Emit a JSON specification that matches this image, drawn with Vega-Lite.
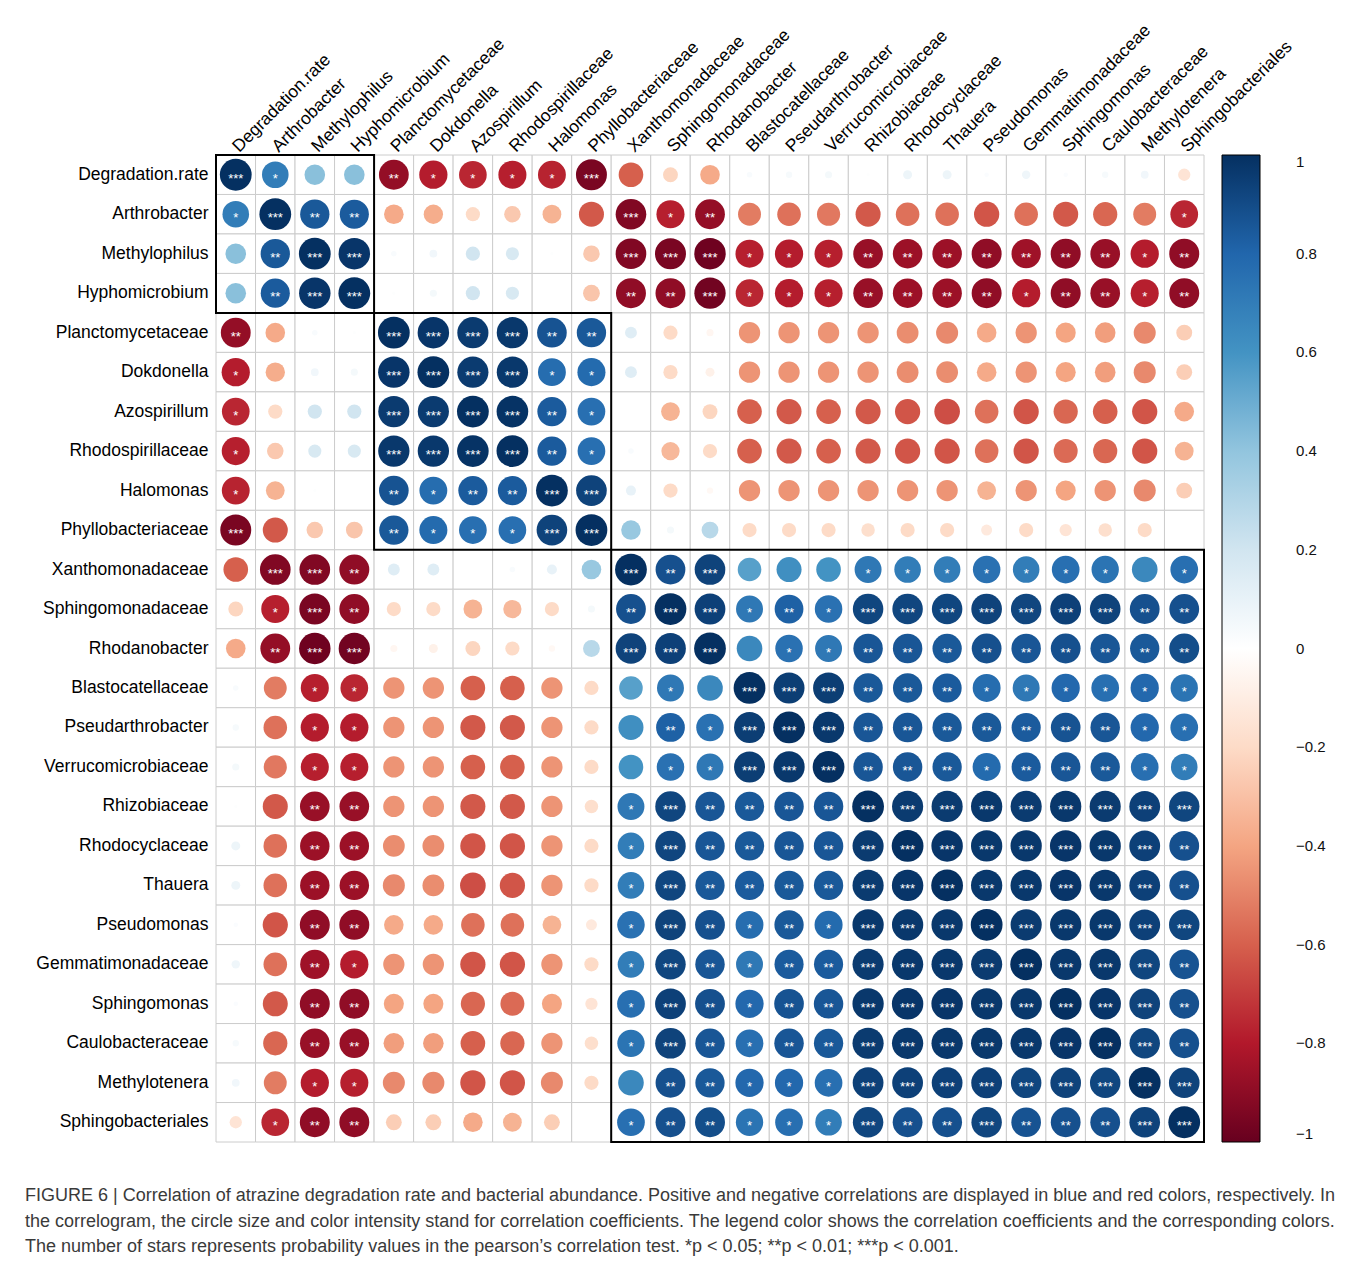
{
"$schema": "https://vega.github.io/schema/vega-lite/v6.json",
"autosize": {"type": "none"},
"width": 988,
"height": 987,
"padding": {"left": 216, "top": 155, "right": 154, "bottom": 121},
"background": "white",
"config": {"view": {"stroke": null}, "font": "Liberation Sans"},
"title": {
  "text": [
    "FIGURE 6 | Correlation of atrazine degradation rate and bacterial abundance. Positive and negative correlations are displayed in blue and red colors, respectively. In",
    "the correlogram, the circle size and color intensity stand for correlation coefficients. The legend color shows the correlation coefficients and the corresponding colors.",
    "The number of stars represents probability values in the pearson’s correlation test. *p < 0.05; **p < 0.01; ***p < 0.001."
  ],
  "orient": "bottom", "anchor": "start", "frame": "group", "dx": -191, "offset": 44,
  "font": "Liberation Sans", "fontSize": 18, "fontWeight": "normal", "color": "#3a3a3a", "baseline": "top", "lineHeight": 25.5
},
"datasets": {
  "names": [
    {"k":1,"name":"Degradation.rate"},{"k":2,"name":"Arthrobacter"},{"k":3,"name":"Methylophilus"},{"k":4,"name":"Hyphomicrobium"},{"k":5,"name":"Planctomycetaceae"},
    {"k":6,"name":"Dokdonella"},{"k":7,"name":"Azospirillum"},{"k":8,"name":"Rhodospirillaceae"},{"k":9,"name":"Halomonas"},{"k":10,"name":"Phyllobacteriaceae"},
    {"k":11,"name":"Xanthomonadaceae"},{"k":12,"name":"Sphingomonadaceae"},{"k":13,"name":"Rhodanobacter"},{"k":14,"name":"Blastocatellaceae"},{"k":15,"name":"Pseudarthrobacter"},
    {"k":16,"name":"Verrucomicrobiaceae"},{"k":17,"name":"Rhizobiaceae"},{"k":18,"name":"Rhodocyclaceae"},{"k":19,"name":"Thauera"},{"k":20,"name":"Pseudomonas"},
    {"k":21,"name":"Gemmatimonadaceae"},{"k":22,"name":"Sphingomonas"},{"k":23,"name":"Caulobacteraceae"},{"k":24,"name":"Methylotenera"},{"k":25,"name":"Sphingobacteriales"}
  ],
  "clusters": [
    {"a":"Degradation.rate","b":"Hyphomicrobium"},
    {"a":"Planctomycetaceae","b":"Phyllobacteriaceae"},
    {"a":"Xanthomonadaceae","b":"Sphingobacteriales"}
  ],
  "cells": [
{"x":1,"y":1,"r":1,"s":"***"},{"x":2,"y":1,"r":0.7,"s":"*"},{"x":3,"y":1,"r":0.42},{"x":4,"y":1,"r":0.42},{"x":5,"y":1,"r":-0.88,"s":"**"},{"x":6,"y":1,"r":-0.79,"s":"*"},{"x":7,"y":1,"r":-0.76,"s":"*"},{"x":8,"y":1,"r":-0.78,"s":"*"},{"x":9,"y":1,"r":-0.77,"s":"*"},{"x":10,"y":1,"r":-0.95,"s":"***"},{"x":11,"y":1,"r":-0.6},{"x":12,"y":1,"r":-0.22},{"x":13,"y":1,"r":-0.38},{"x":14,"y":1,"r":0.03},{"x":15,"y":1,"r":0.04},{"x":16,"y":1,"r":0.05},{"x":17,"y":1,"r":0.01},{"x":18,"y":1,"r":0.08},{"x":19,"y":1,"r":0.08},{"x":20,"y":1,"r":0.02},{"x":21,"y":1,"r":0.07},{"x":22,"y":1,"r":0.02},{"x":23,"y":1,"r":0.04},{"x":24,"y":1,"r":0.06},{"x":25,"y":1,"r":-0.15},
{"x":1,"y":2,"r":0.7,"s":"*"},{"x":2,"y":2,"r":1,"s":"***"},{"x":3,"y":2,"r":0.85,"s":"**"},{"x":4,"y":2,"r":0.84,"s":"**"},{"x":5,"y":2,"r":-0.38},{"x":6,"y":2,"r":-0.37},{"x":7,"y":2,"r":-0.2},{"x":8,"y":2,"r":-0.27},{"x":9,"y":2,"r":-0.35},{"x":10,"y":2,"r":-0.62},{"x":11,"y":2,"r":-0.93,"s":"***"},{"x":12,"y":2,"r":-0.78,"s":"*"},{"x":13,"y":2,"r":-0.88,"s":"**"},{"x":14,"y":2,"r":-0.52},{"x":15,"y":2,"r":-0.55},{"x":16,"y":2,"r":-0.53},{"x":17,"y":2,"r":-0.62},{"x":18,"y":2,"r":-0.55},{"x":19,"y":2,"r":-0.55},{"x":20,"y":2,"r":-0.63},{"x":21,"y":2,"r":-0.55},{"x":22,"y":2,"r":-0.62},{"x":23,"y":2,"r":-0.58},{"x":24,"y":2,"r":-0.52},{"x":25,"y":2,"r":-0.76,"s":"*"},
{"x":1,"y":3,"r":0.42},{"x":2,"y":3,"r":0.85,"s":"**"},{"x":3,"y":3,"r":1,"s":"***"},{"x":4,"y":3,"r":0.98,"s":"***"},{"x":5,"y":3,"r":0.03},{"x":6,"y":3,"r":0.06},{"x":7,"y":3,"r":0.2},{"x":8,"y":3,"r":0.17},{"x":9,"y":3,"r":0.01},{"x":10,"y":3,"r":-0.27},{"x":11,"y":3,"r":-0.93,"s":"***"},{"x":12,"y":3,"r":-0.95,"s":"***"},{"x":13,"y":3,"r":-0.98,"s":"***"},{"x":14,"y":3,"r":-0.78,"s":"*"},{"x":15,"y":3,"r":-0.79,"s":"*"},{"x":16,"y":3,"r":-0.78,"s":"*"},{"x":17,"y":3,"r":-0.87,"s":"**"},{"x":18,"y":3,"r":-0.86,"s":"**"},{"x":19,"y":3,"r":-0.86,"s":"**"},{"x":20,"y":3,"r":-0.89,"s":"**"},{"x":21,"y":3,"r":-0.85,"s":"**"},{"x":22,"y":3,"r":-0.89,"s":"**"},{"x":23,"y":3,"r":-0.87,"s":"**"},{"x":24,"y":3,"r":-0.79,"s":"*"},{"x":25,"y":3,"r":-0.89,"s":"**"},
{"x":1,"y":4,"r":0.42},{"x":2,"y":4,"r":0.84,"s":"**"},{"x":3,"y":4,"r":0.98,"s":"***"},{"x":4,"y":4,"r":1,"s":"***"},{"x":5,"y":4,"r":0.01},{"x":6,"y":4,"r":0.05},{"x":7,"y":4,"r":0.2},{"x":8,"y":4,"r":0.17},{"x":9,"y":4,"r":0},{"x":10,"y":4,"r":-0.28},{"x":11,"y":4,"r":-0.89,"s":"**"},{"x":12,"y":4,"r":-0.89,"s":"**"},{"x":13,"y":4,"r":-0.97,"s":"***"},{"x":14,"y":4,"r":-0.76,"s":"*"},{"x":15,"y":4,"r":-0.79,"s":"*"},{"x":16,"y":4,"r":-0.78,"s":"*"},{"x":17,"y":4,"r":-0.87,"s":"**"},{"x":18,"y":4,"r":-0.86,"s":"**"},{"x":19,"y":4,"r":-0.86,"s":"**"},{"x":20,"y":4,"r":-0.89,"s":"**"},{"x":21,"y":4,"r":-0.79,"s":"*"},{"x":22,"y":4,"r":-0.89,"s":"**"},{"x":23,"y":4,"r":-0.87,"s":"**"},{"x":24,"y":4,"r":-0.78,"s":"*"},{"x":25,"y":4,"r":-0.89,"s":"**"},
{"x":1,"y":5,"r":-0.88,"s":"**"},{"x":2,"y":5,"r":-0.38},{"x":3,"y":5,"r":0.03},{"x":4,"y":5,"r":0.01},{"x":5,"y":5,"r":1,"s":"***"},{"x":6,"y":5,"r":0.98,"s":"***"},{"x":7,"y":5,"r":0.96,"s":"***"},{"x":8,"y":5,"r":0.97,"s":"***"},{"x":9,"y":5,"r":0.87,"s":"**"},{"x":10,"y":5,"r":0.85,"s":"**"},{"x":11,"y":5,"r":0.14},{"x":12,"y":5,"r":-0.2},{"x":13,"y":5,"r":-0.05},{"x":14,"y":5,"r":-0.45},{"x":15,"y":5,"r":-0.45},{"x":16,"y":5,"r":-0.45},{"x":17,"y":5,"r":-0.45},{"x":18,"y":5,"r":-0.47},{"x":19,"y":5,"r":-0.48},{"x":20,"y":5,"r":-0.38},{"x":21,"y":5,"r":-0.45},{"x":22,"y":5,"r":-0.4},{"x":23,"y":5,"r":-0.42},{"x":24,"y":5,"r":-0.48},{"x":25,"y":5,"r":-0.25},
{"x":1,"y":6,"r":-0.79,"s":"*"},{"x":2,"y":6,"r":-0.37},{"x":3,"y":6,"r":0.06},{"x":4,"y":6,"r":0.05},{"x":5,"y":6,"r":0.98,"s":"***"},{"x":6,"y":6,"r":1,"s":"***"},{"x":7,"y":6,"r":0.96,"s":"***"},{"x":8,"y":6,"r":0.97,"s":"***"},{"x":9,"y":6,"r":0.77,"s":"*"},{"x":10,"y":6,"r":0.78,"s":"*"},{"x":11,"y":6,"r":0.14},{"x":12,"y":6,"r":-0.2},{"x":13,"y":6,"r":-0.08},{"x":14,"y":6,"r":-0.45},{"x":15,"y":6,"r":-0.45},{"x":16,"y":6,"r":-0.45},{"x":17,"y":6,"r":-0.45},{"x":18,"y":6,"r":-0.47},{"x":19,"y":6,"r":-0.47},{"x":20,"y":6,"r":-0.38},{"x":21,"y":6,"r":-0.45},{"x":22,"y":6,"r":-0.4},{"x":23,"y":6,"r":-0.42},{"x":24,"y":6,"r":-0.48},{"x":25,"y":6,"r":-0.25},
{"x":1,"y":7,"r":-0.76,"s":"*"},{"x":2,"y":7,"r":-0.2},{"x":3,"y":7,"r":0.2},{"x":4,"y":7,"r":0.2},{"x":5,"y":7,"r":0.96,"s":"***"},{"x":6,"y":7,"r":0.96,"s":"***"},{"x":7,"y":7,"r":1,"s":"***"},{"x":8,"y":7,"r":0.99,"s":"***"},{"x":9,"y":7,"r":0.84,"s":"**"},{"x":10,"y":7,"r":0.76,"s":"*"},{"x":11,"y":7,"r":0},{"x":12,"y":7,"r":-0.35},{"x":13,"y":7,"r":-0.22},{"x":14,"y":7,"r":-0.6},{"x":15,"y":7,"r":-0.62},{"x":16,"y":7,"r":-0.6},{"x":17,"y":7,"r":-0.62},{"x":18,"y":7,"r":-0.63},{"x":19,"y":7,"r":-0.65},{"x":20,"y":7,"r":-0.55},{"x":21,"y":7,"r":-0.63},{"x":22,"y":7,"r":-0.58},{"x":23,"y":7,"r":-0.6},{"x":24,"y":7,"r":-0.63},{"x":25,"y":7,"r":-0.38},
{"x":1,"y":8,"r":-0.78,"s":"*"},{"x":2,"y":8,"r":-0.27},{"x":3,"y":8,"r":0.17},{"x":4,"y":8,"r":0.17},{"x":5,"y":8,"r":0.97,"s":"***"},{"x":6,"y":8,"r":0.97,"s":"***"},{"x":7,"y":8,"r":0.99,"s":"***"},{"x":8,"y":8,"r":1,"s":"***"},{"x":9,"y":8,"r":0.84,"s":"**"},{"x":10,"y":8,"r":0.76,"s":"*"},{"x":11,"y":8,"r":0.03},{"x":12,"y":8,"r":-0.33},{"x":13,"y":8,"r":-0.2},{"x":14,"y":8,"r":-0.6},{"x":15,"y":8,"r":-0.62},{"x":16,"y":8,"r":-0.6},{"x":17,"y":8,"r":-0.62},{"x":18,"y":8,"r":-0.63},{"x":19,"y":8,"r":-0.63},{"x":20,"y":8,"r":-0.55},{"x":21,"y":8,"r":-0.63},{"x":22,"y":8,"r":-0.57},{"x":23,"y":8,"r":-0.58},{"x":24,"y":8,"r":-0.63},{"x":25,"y":8,"r":-0.35},
{"x":1,"y":9,"r":-0.77,"s":"*"},{"x":2,"y":9,"r":-0.35},{"x":3,"y":9,"r":0.01},{"x":4,"y":9,"r":0},{"x":5,"y":9,"r":0.87,"s":"**"},{"x":6,"y":9,"r":0.77,"s":"*"},{"x":7,"y":9,"r":0.84,"s":"**"},{"x":8,"y":9,"r":0.84,"s":"**"},{"x":9,"y":9,"r":1,"s":"***"},{"x":10,"y":9,"r":0.93,"s":"***"},{"x":11,"y":9,"r":0.1},{"x":12,"y":9,"r":-0.2},{"x":13,"y":9,"r":-0.04},{"x":14,"y":9,"r":-0.45},{"x":15,"y":9,"r":-0.45},{"x":16,"y":9,"r":-0.45},{"x":17,"y":9,"r":-0.45},{"x":18,"y":9,"r":-0.45},{"x":19,"y":9,"r":-0.45},{"x":20,"y":9,"r":-0.35},{"x":21,"y":9,"r":-0.45},{"x":22,"y":9,"r":-0.4},{"x":23,"y":9,"r":-0.45},{"x":24,"y":9,"r":-0.48},{"x":25,"y":9,"r":-0.25},
{"x":1,"y":10,"r":-0.95,"s":"***"},{"x":2,"y":10,"r":-0.62},{"x":3,"y":10,"r":-0.27},{"x":4,"y":10,"r":-0.28},{"x":5,"y":10,"r":0.85,"s":"**"},{"x":6,"y":10,"r":0.78,"s":"*"},{"x":7,"y":10,"r":0.76,"s":"*"},{"x":8,"y":10,"r":0.76,"s":"*"},{"x":9,"y":10,"r":0.93,"s":"***"},{"x":10,"y":10,"r":1,"s":"***"},{"x":11,"y":10,"r":0.38},{"x":12,"y":10,"r":0.05},{"x":13,"y":10,"r":0.28},{"x":14,"y":10,"r":-0.2},{"x":15,"y":10,"r":-0.2},{"x":16,"y":10,"r":-0.2},{"x":17,"y":10,"r":-0.18},{"x":18,"y":10,"r":-0.2},{"x":19,"y":10,"r":-0.2},{"x":20,"y":10,"r":-0.12},{"x":21,"y":10,"r":-0.2},{"x":22,"y":10,"r":-0.15},{"x":23,"y":10,"r":-0.18},{"x":24,"y":10,"r":-0.2},{"x":25,"y":10,"r":0},
{"x":1,"y":11,"r":-0.6},{"x":2,"y":11,"r":-0.93,"s":"***"},{"x":3,"y":11,"r":-0.93,"s":"***"},{"x":4,"y":11,"r":-0.89,"s":"**"},{"x":5,"y":11,"r":0.14},{"x":6,"y":11,"r":0.14},{"x":7,"y":11,"r":0},{"x":8,"y":11,"r":0.03},{"x":9,"y":11,"r":0.1},{"x":10,"y":11,"r":0.38},{"x":11,"y":11,"r":1,"s":"***"},{"x":12,"y":11,"r":0.88,"s":"**"},{"x":13,"y":11,"r":0.93,"s":"***"},{"x":14,"y":11,"r":0.55},{"x":15,"y":11,"r":0.62},{"x":16,"y":11,"r":0.6},{"x":17,"y":11,"r":0.72,"s":"*"},{"x":18,"y":11,"r":0.7,"s":"*"},{"x":19,"y":11,"r":0.7,"s":"*"},{"x":20,"y":11,"r":0.75,"s":"*"},{"x":21,"y":11,"r":0.7,"s":"*"},{"x":22,"y":11,"r":0.76,"s":"*"},{"x":23,"y":11,"r":0.74,"s":"*"},{"x":24,"y":11,"r":0.65},{"x":25,"y":11,"r":0.76,"s":"*"},
{"x":1,"y":12,"r":-0.22},{"x":2,"y":12,"r":-0.78,"s":"*"},{"x":3,"y":12,"r":-0.95,"s":"***"},{"x":4,"y":12,"r":-0.89,"s":"**"},{"x":5,"y":12,"r":-0.2},{"x":6,"y":12,"r":-0.2},{"x":7,"y":12,"r":-0.35},{"x":8,"y":12,"r":-0.33},{"x":9,"y":12,"r":-0.2},{"x":10,"y":12,"r":0.05},{"x":11,"y":12,"r":0.88,"s":"**"},{"x":12,"y":12,"r":1,"s":"***"},{"x":13,"y":12,"r":0.94,"s":"***"},{"x":14,"y":12,"r":0.72,"s":"*"},{"x":15,"y":12,"r":0.82,"s":"**"},{"x":16,"y":12,"r":0.75,"s":"*"},{"x":17,"y":12,"r":0.92,"s":"***"},{"x":18,"y":12,"r":0.92,"s":"***"},{"x":19,"y":12,"r":0.92,"s":"***"},{"x":20,"y":12,"r":0.93,"s":"***"},{"x":21,"y":12,"r":0.92,"s":"***"},{"x":22,"y":12,"r":0.94,"s":"***"},{"x":23,"y":12,"r":0.93,"s":"***"},{"x":24,"y":12,"r":0.88,"s":"**"},{"x":25,"y":12,"r":0.88,"s":"**"},
{"x":1,"y":13,"r":-0.38},{"x":2,"y":13,"r":-0.88,"s":"**"},{"x":3,"y":13,"r":-0.98,"s":"***"},{"x":4,"y":13,"r":-0.97,"s":"***"},{"x":5,"y":13,"r":-0.05},{"x":6,"y":13,"r":-0.08},{"x":7,"y":13,"r":-0.22},{"x":8,"y":13,"r":-0.2},{"x":9,"y":13,"r":-0.04},{"x":10,"y":13,"r":0.28},{"x":11,"y":13,"r":0.93,"s":"***"},{"x":12,"y":13,"r":0.94,"s":"***"},{"x":13,"y":13,"r":1,"s":"***"},{"x":14,"y":13,"r":0.65},{"x":15,"y":13,"r":0.75,"s":"*"},{"x":16,"y":13,"r":0.72,"s":"*"},{"x":17,"y":13,"r":0.86,"s":"**"},{"x":18,"y":13,"r":0.86,"s":"**"},{"x":19,"y":13,"r":0.85,"s":"**"},{"x":20,"y":13,"r":0.88,"s":"**"},{"x":21,"y":13,"r":0.86,"s":"**"},{"x":22,"y":13,"r":0.88,"s":"**"},{"x":23,"y":13,"r":0.86,"s":"**"},{"x":24,"y":13,"r":0.85,"s":"**"},{"x":25,"y":13,"r":0.89,"s":"**"},
{"x":1,"y":14,"r":0.03},{"x":2,"y":14,"r":-0.52},{"x":3,"y":14,"r":-0.78,"s":"*"},{"x":4,"y":14,"r":-0.76,"s":"*"},{"x":5,"y":14,"r":-0.45},{"x":6,"y":14,"r":-0.45},{"x":7,"y":14,"r":-0.6},{"x":8,"y":14,"r":-0.6},{"x":9,"y":14,"r":-0.45},{"x":10,"y":14,"r":-0.2},{"x":11,"y":14,"r":0.55},{"x":12,"y":14,"r":0.72,"s":"*"},{"x":13,"y":14,"r":0.65},{"x":14,"y":14,"r":1,"s":"***"},{"x":15,"y":14,"r":0.95,"s":"***"},{"x":16,"y":14,"r":0.95,"s":"***"},{"x":17,"y":14,"r":0.85,"s":"**"},{"x":18,"y":14,"r":0.85,"s":"**"},{"x":19,"y":14,"r":0.84,"s":"**"},{"x":20,"y":14,"r":0.77,"s":"*"},{"x":21,"y":14,"r":0.72,"s":"*"},{"x":22,"y":14,"r":0.79,"s":"*"},{"x":23,"y":14,"r":0.76,"s":"*"},{"x":24,"y":14,"r":0.79,"s":"*"},{"x":25,"y":14,"r":0.74,"s":"*"},
{"x":1,"y":15,"r":0.04},{"x":2,"y":15,"r":-0.55},{"x":3,"y":15,"r":-0.79,"s":"*"},{"x":4,"y":15,"r":-0.79,"s":"*"},{"x":5,"y":15,"r":-0.45},{"x":6,"y":15,"r":-0.45},{"x":7,"y":15,"r":-0.62},{"x":8,"y":15,"r":-0.62},{"x":9,"y":15,"r":-0.45},{"x":10,"y":15,"r":-0.2},{"x":11,"y":15,"r":0.62},{"x":12,"y":15,"r":0.82,"s":"**"},{"x":13,"y":15,"r":0.75,"s":"*"},{"x":14,"y":15,"r":0.95,"s":"***"},{"x":15,"y":15,"r":1,"s":"***"},{"x":16,"y":15,"r":0.97,"s":"***"},{"x":17,"y":15,"r":0.86,"s":"**"},{"x":18,"y":15,"r":0.86,"s":"**"},{"x":19,"y":15,"r":0.85,"s":"**"},{"x":20,"y":15,"r":0.85,"s":"**"},{"x":21,"y":15,"r":0.84,"s":"**"},{"x":22,"y":15,"r":0.87,"s":"**"},{"x":23,"y":15,"r":0.86,"s":"**"},{"x":24,"y":15,"r":0.79,"s":"*"},{"x":25,"y":15,"r":0.76,"s":"*"},
{"x":1,"y":16,"r":0.05},{"x":2,"y":16,"r":-0.53},{"x":3,"y":16,"r":-0.78,"s":"*"},{"x":4,"y":16,"r":-0.78,"s":"*"},{"x":5,"y":16,"r":-0.45},{"x":6,"y":16,"r":-0.45},{"x":7,"y":16,"r":-0.6},{"x":8,"y":16,"r":-0.6},{"x":9,"y":16,"r":-0.45},{"x":10,"y":16,"r":-0.2},{"x":11,"y":16,"r":0.6},{"x":12,"y":16,"r":0.75,"s":"*"},{"x":13,"y":16,"r":0.72,"s":"*"},{"x":14,"y":16,"r":0.95,"s":"***"},{"x":15,"y":16,"r":0.97,"s":"***"},{"x":16,"y":16,"r":1,"s":"***"},{"x":17,"y":16,"r":0.86,"s":"**"},{"x":18,"y":16,"r":0.86,"s":"**"},{"x":19,"y":16,"r":0.85,"s":"**"},{"x":20,"y":16,"r":0.78,"s":"*"},{"x":21,"y":16,"r":0.84,"s":"**"},{"x":22,"y":16,"r":0.86,"s":"**"},{"x":23,"y":16,"r":0.85,"s":"**"},{"x":24,"y":16,"r":0.76,"s":"*"},{"x":25,"y":16,"r":0.7,"s":"*"},
{"x":1,"y":17,"r":0.01},{"x":2,"y":17,"r":-0.62},{"x":3,"y":17,"r":-0.87,"s":"**"},{"x":4,"y":17,"r":-0.87,"s":"**"},{"x":5,"y":17,"r":-0.45},{"x":6,"y":17,"r":-0.45},{"x":7,"y":17,"r":-0.62},{"x":8,"y":17,"r":-0.62},{"x":9,"y":17,"r":-0.45},{"x":10,"y":17,"r":-0.18},{"x":11,"y":17,"r":0.72,"s":"*"},{"x":12,"y":17,"r":0.92,"s":"***"},{"x":13,"y":17,"r":0.86,"s":"**"},{"x":14,"y":17,"r":0.85,"s":"**"},{"x":15,"y":17,"r":0.86,"s":"**"},{"x":16,"y":17,"r":0.86,"s":"**"},{"x":17,"y":17,"r":1,"s":"***"},{"x":18,"y":17,"r":0.96,"s":"***"},{"x":19,"y":17,"r":0.96,"s":"***"},{"x":20,"y":17,"r":0.97,"s":"***"},{"x":21,"y":17,"r":0.96,"s":"***"},{"x":22,"y":17,"r":0.97,"s":"***"},{"x":23,"y":17,"r":0.96,"s":"***"},{"x":24,"y":17,"r":0.94,"s":"***"},{"x":25,"y":17,"r":0.92,"s":"***"},
{"x":1,"y":18,"r":0.08},{"x":2,"y":18,"r":-0.55},{"x":3,"y":18,"r":-0.86,"s":"**"},{"x":4,"y":18,"r":-0.86,"s":"**"},{"x":5,"y":18,"r":-0.47},{"x":6,"y":18,"r":-0.47},{"x":7,"y":18,"r":-0.63},{"x":8,"y":18,"r":-0.63},{"x":9,"y":18,"r":-0.45},{"x":10,"y":18,"r":-0.2},{"x":11,"y":18,"r":0.7,"s":"*"},{"x":12,"y":18,"r":0.92,"s":"***"},{"x":13,"y":18,"r":0.86,"s":"**"},{"x":14,"y":18,"r":0.85,"s":"**"},{"x":15,"y":18,"r":0.86,"s":"**"},{"x":16,"y":18,"r":0.86,"s":"**"},{"x":17,"y":18,"r":0.96,"s":"***"},{"x":18,"y":18,"r":1,"s":"***"},{"x":19,"y":18,"r":0.98,"s":"***"},{"x":20,"y":18,"r":0.97,"s":"***"},{"x":21,"y":18,"r":0.97,"s":"***"},{"x":22,"y":18,"r":0.98,"s":"***"},{"x":23,"y":18,"r":0.97,"s":"***"},{"x":24,"y":18,"r":0.94,"s":"***"},{"x":25,"y":18,"r":0.88,"s":"**"},
{"x":1,"y":19,"r":0.08},{"x":2,"y":19,"r":-0.55},{"x":3,"y":19,"r":-0.86,"s":"**"},{"x":4,"y":19,"r":-0.86,"s":"**"},{"x":5,"y":19,"r":-0.48},{"x":6,"y":19,"r":-0.47},{"x":7,"y":19,"r":-0.65},{"x":8,"y":19,"r":-0.63},{"x":9,"y":19,"r":-0.45},{"x":10,"y":19,"r":-0.2},{"x":11,"y":19,"r":0.7,"s":"*"},{"x":12,"y":19,"r":0.92,"s":"***"},{"x":13,"y":19,"r":0.85,"s":"**"},{"x":14,"y":19,"r":0.84,"s":"**"},{"x":15,"y":19,"r":0.85,"s":"**"},{"x":16,"y":19,"r":0.85,"s":"**"},{"x":17,"y":19,"r":0.96,"s":"***"},{"x":18,"y":19,"r":0.98,"s":"***"},{"x":19,"y":19,"r":1,"s":"***"},{"x":20,"y":19,"r":0.97,"s":"***"},{"x":21,"y":19,"r":0.97,"s":"***"},{"x":22,"y":19,"r":0.98,"s":"***"},{"x":23,"y":19,"r":0.97,"s":"***"},{"x":24,"y":19,"r":0.94,"s":"***"},{"x":25,"y":19,"r":0.88,"s":"**"},
{"x":1,"y":20,"r":0.02},{"x":2,"y":20,"r":-0.63},{"x":3,"y":20,"r":-0.89,"s":"**"},{"x":4,"y":20,"r":-0.89,"s":"**"},{"x":5,"y":20,"r":-0.38},{"x":6,"y":20,"r":-0.38},{"x":7,"y":20,"r":-0.55},{"x":8,"y":20,"r":-0.55},{"x":9,"y":20,"r":-0.35},{"x":10,"y":20,"r":-0.12},{"x":11,"y":20,"r":0.75,"s":"*"},{"x":12,"y":20,"r":0.93,"s":"***"},{"x":13,"y":20,"r":0.88,"s":"**"},{"x":14,"y":20,"r":0.77,"s":"*"},{"x":15,"y":20,"r":0.85,"s":"**"},{"x":16,"y":20,"r":0.78,"s":"*"},{"x":17,"y":20,"r":0.97,"s":"***"},{"x":18,"y":20,"r":0.97,"s":"***"},{"x":19,"y":20,"r":0.97,"s":"***"},{"x":20,"y":20,"r":1,"s":"***"},{"x":21,"y":20,"r":0.96,"s":"***"},{"x":22,"y":20,"r":0.97,"s":"***"},{"x":23,"y":20,"r":0.97,"s":"***"},{"x":24,"y":20,"r":0.94,"s":"***"},{"x":25,"y":20,"r":0.92,"s":"***"},
{"x":1,"y":21,"r":0.07},{"x":2,"y":21,"r":-0.55},{"x":3,"y":21,"r":-0.85,"s":"**"},{"x":4,"y":21,"r":-0.79,"s":"*"},{"x":5,"y":21,"r":-0.45},{"x":6,"y":21,"r":-0.45},{"x":7,"y":21,"r":-0.63},{"x":8,"y":21,"r":-0.63},{"x":9,"y":21,"r":-0.45},{"x":10,"y":21,"r":-0.2},{"x":11,"y":21,"r":0.7,"s":"*"},{"x":12,"y":21,"r":0.92,"s":"***"},{"x":13,"y":21,"r":0.86,"s":"**"},{"x":14,"y":21,"r":0.72,"s":"*"},{"x":15,"y":21,"r":0.84,"s":"**"},{"x":16,"y":21,"r":0.84,"s":"**"},{"x":17,"y":21,"r":0.96,"s":"***"},{"x":18,"y":21,"r":0.97,"s":"***"},{"x":19,"y":21,"r":0.97,"s":"***"},{"x":20,"y":21,"r":0.96,"s":"***"},{"x":21,"y":21,"r":1,"s":"***"},{"x":22,"y":21,"r":0.97,"s":"***"},{"x":23,"y":21,"r":0.97,"s":"***"},{"x":24,"y":21,"r":0.92,"s":"***"},{"x":25,"y":21,"r":0.87,"s":"**"},
{"x":1,"y":22,"r":0.02},{"x":2,"y":22,"r":-0.62},{"x":3,"y":22,"r":-0.89,"s":"**"},{"x":4,"y":22,"r":-0.89,"s":"**"},{"x":5,"y":22,"r":-0.4},{"x":6,"y":22,"r":-0.4},{"x":7,"y":22,"r":-0.58},{"x":8,"y":22,"r":-0.57},{"x":9,"y":22,"r":-0.4},{"x":10,"y":22,"r":-0.15},{"x":11,"y":22,"r":0.76,"s":"*"},{"x":12,"y":22,"r":0.94,"s":"***"},{"x":13,"y":22,"r":0.88,"s":"**"},{"x":14,"y":22,"r":0.79,"s":"*"},{"x":15,"y":22,"r":0.87,"s":"**"},{"x":16,"y":22,"r":0.86,"s":"**"},{"x":17,"y":22,"r":0.97,"s":"***"},{"x":18,"y":22,"r":0.98,"s":"***"},{"x":19,"y":22,"r":0.98,"s":"***"},{"x":20,"y":22,"r":0.97,"s":"***"},{"x":21,"y":22,"r":0.97,"s":"***"},{"x":22,"y":22,"r":1,"s":"***"},{"x":23,"y":22,"r":0.98,"s":"***"},{"x":24,"y":22,"r":0.93,"s":"***"},{"x":25,"y":22,"r":0.88,"s":"**"},
{"x":1,"y":23,"r":0.04},{"x":2,"y":23,"r":-0.58},{"x":3,"y":23,"r":-0.87,"s":"**"},{"x":4,"y":23,"r":-0.87,"s":"**"},{"x":5,"y":23,"r":-0.42},{"x":6,"y":23,"r":-0.42},{"x":7,"y":23,"r":-0.6},{"x":8,"y":23,"r":-0.58},{"x":9,"y":23,"r":-0.45},{"x":10,"y":23,"r":-0.18},{"x":11,"y":23,"r":0.74,"s":"*"},{"x":12,"y":23,"r":0.93,"s":"***"},{"x":13,"y":23,"r":0.86,"s":"**"},{"x":14,"y":23,"r":0.76,"s":"*"},{"x":15,"y":23,"r":0.86,"s":"**"},{"x":16,"y":23,"r":0.85,"s":"**"},{"x":17,"y":23,"r":0.96,"s":"***"},{"x":18,"y":23,"r":0.97,"s":"***"},{"x":19,"y":23,"r":0.97,"s":"***"},{"x":20,"y":23,"r":0.97,"s":"***"},{"x":21,"y":23,"r":0.97,"s":"***"},{"x":22,"y":23,"r":0.98,"s":"***"},{"x":23,"y":23,"r":1,"s":"***"},{"x":24,"y":23,"r":0.92,"s":"***"},{"x":25,"y":23,"r":0.88,"s":"**"},
{"x":1,"y":24,"r":0.06},{"x":2,"y":24,"r":-0.52},{"x":3,"y":24,"r":-0.79,"s":"*"},{"x":4,"y":24,"r":-0.78,"s":"*"},{"x":5,"y":24,"r":-0.48},{"x":6,"y":24,"r":-0.48},{"x":7,"y":24,"r":-0.63},{"x":8,"y":24,"r":-0.63},{"x":9,"y":24,"r":-0.48},{"x":10,"y":24,"r":-0.2},{"x":11,"y":24,"r":0.65},{"x":12,"y":24,"r":0.88,"s":"**"},{"x":13,"y":24,"r":0.85,"s":"**"},{"x":14,"y":24,"r":0.79,"s":"*"},{"x":15,"y":24,"r":0.79,"s":"*"},{"x":16,"y":24,"r":0.76,"s":"*"},{"x":17,"y":24,"r":0.94,"s":"***"},{"x":18,"y":24,"r":0.94,"s":"***"},{"x":19,"y":24,"r":0.94,"s":"***"},{"x":20,"y":24,"r":0.94,"s":"***"},{"x":21,"y":24,"r":0.92,"s":"***"},{"x":22,"y":24,"r":0.93,"s":"***"},{"x":23,"y":24,"r":0.92,"s":"***"},{"x":24,"y":24,"r":1,"s":"***"},{"x":25,"y":24,"r":0.93,"s":"***"},
{"x":1,"y":25,"r":-0.15},{"x":2,"y":25,"r":-0.76,"s":"*"},{"x":3,"y":25,"r":-0.89,"s":"**"},{"x":4,"y":25,"r":-0.89,"s":"**"},{"x":5,"y":25,"r":-0.25},{"x":6,"y":25,"r":-0.25},{"x":7,"y":25,"r":-0.38},{"x":8,"y":25,"r":-0.35},{"x":9,"y":25,"r":-0.25},{"x":10,"y":25,"r":0},{"x":11,"y":25,"r":0.76,"s":"*"},{"x":12,"y":25,"r":0.88,"s":"**"},{"x":13,"y":25,"r":0.89,"s":"**"},{"x":14,"y":25,"r":0.74,"s":"*"},{"x":15,"y":25,"r":0.76,"s":"*"},{"x":16,"y":25,"r":0.7,"s":"*"},{"x":17,"y":25,"r":0.92,"s":"***"},{"x":18,"y":25,"r":0.88,"s":"**"},{"x":19,"y":25,"r":0.88,"s":"**"},{"x":20,"y":25,"r":0.92,"s":"***"},{"x":21,"y":25,"r":0.87,"s":"**"},{"x":22,"y":25,"r":0.88,"s":"**"},{"x":23,"y":25,"r":0.88,"s":"**"},{"x":24,"y":25,"r":0.93,"s":"***"},{"x":25,"y":25,"r":1,"s":"***"}
  ]
},
"layer": [
  {
    "data": {"name": "cells"},
    "transform": [
      {"lookup": "x", "from": {"data": {"name": "names"}, "key": "k", "fields": ["name"]}, "as": ["col"]},
      {"lookup": "y", "from": {"data": {"name": "names"}, "key": "k", "fields": ["name"]}, "as": ["row"]}
    ],
    "encoding": {
      "x": {"field": "col", "type": "nominal", "title": null,
        "scale": {"type": "band", "paddingInner": 0, "paddingOuter": 0, "domain": ["Degradation.rate","Arthrobacter","Methylophilus","Hyphomicrobium","Planctomycetaceae","Dokdonella","Azospirillum","Rhodospirillaceae","Halomonas","Phyllobacteriaceae","Xanthomonadaceae","Sphingomonadaceae","Rhodanobacter","Blastocatellaceae","Pseudarthrobacter","Verrucomicrobiaceae","Rhizobiaceae","Rhodocyclaceae","Thauera","Pseudomonas","Gemmatimonadaceae","Sphingomonas","Caulobacteraceae","Methylotenera","Sphingobacteriales"]},
        "axis": {"orient": "top", "title": null, "ticks": false, "domain": false, "grid": false, "labelAngle": -45, "labelAlign": "left", "labelBaseline": "middle", "labelFont": "Liberation Sans", "labelFontSize": 17.5, "labelColor": "#000000", "labelPadding": 6, "labelLimit": 0, "labelOverlap": false}},
      "y": {"field": "row", "type": "nominal", "title": null,
        "scale": {"type": "band", "paddingInner": 0, "paddingOuter": 0, "domain": ["Degradation.rate","Arthrobacter","Methylophilus","Hyphomicrobium","Planctomycetaceae","Dokdonella","Azospirillum","Rhodospirillaceae","Halomonas","Phyllobacteriaceae","Xanthomonadaceae","Sphingomonadaceae","Rhodanobacter","Blastocatellaceae","Pseudarthrobacter","Verrucomicrobiaceae","Rhizobiaceae","Rhodocyclaceae","Thauera","Pseudomonas","Gemmatimonadaceae","Sphingomonas","Caulobacteraceae","Methylotenera","Sphingobacteriales"]},
        "axis": {"orient": "left", "title": null, "ticks": false, "domain": false, "grid": false, "labelFont": "Liberation Sans", "labelFontSize": 17.5, "labelColor": "#000000", "labelPadding": 8, "labelLimit": 0, "labelOverlap": false}}
    },
    "layer": [
      {"mark": {"type": "rect", "fill": "white", "stroke": "#cccccc", "strokeWidth": 1}},
      {"mark": {"type": "point", "shape": "circle", "filled": true, "opacity": 1, "strokeWidth": 0},
       "encoding": {
         "color": {"field": "r", "type": "quantitative",
           "scale": {"type": "linear", "interpolate": "rgb", "domain": [-1,-0.8,-0.6,-0.4,-0.2,0,0.2,0.4,0.6,0.8,1], "range": ["#67001F","#B2182B","#D6604D","#F4A582","#FDDBC7","#FFFFFF","#D1E5F0","#92C5DE","#4393C3","#2166AC","#053061"]},
           "legend": {"orient": "none", "legendX": 1006, "legendY": 0, "direction": "vertical", "title": null, "padding": 0,
             "gradientLength": 987, "gradientThickness": 38, "gradientStrokeColor": "#000000", "gradientStrokeWidth": 1,
             "values": [1,0.8,0.6,0.4,0.2,0,-0.2,-0.4,-0.6,-0.8,-1], "format": ".1~f",
             "labelFont": "Liberation Sans", "labelFontSize": 15, "labelColor": "#111111", "labelOffset": 36, "labelOverlap": false}},
         "size": {"field": "r", "type": "quantitative", "scale": {"type": "linear", "domain": [-1,0,1], "range": [1010,0,1010]}, "legend": null}
       }},
      {"transform": [{"filter": "datum.s"}],
       "mark": {"type": "text", "color": "white", "font": "Liberation Sans", "fontSize": 13, "baseline": "middle", "dy": 4},
       "encoding": {"text": {"field": "s", "type": "nominal"}}}
    ]
  },
  {
    "data": {"name": "clusters"},
    "mark": {"type": "rect", "filled": false, "stroke": "#000000", "strokeWidth": 2},
    "encoding": {
      "x": {"field": "a", "type": "nominal", "bandPosition": 0, "title": null,
        "scale": {"type": "band", "paddingInner": 0, "paddingOuter": 0, "domain": ["Degradation.rate","Arthrobacter","Methylophilus","Hyphomicrobium","Planctomycetaceae","Dokdonella","Azospirillum","Rhodospirillaceae","Halomonas","Phyllobacteriaceae","Xanthomonadaceae","Sphingomonadaceae","Rhodanobacter","Blastocatellaceae","Pseudarthrobacter","Verrucomicrobiaceae","Rhizobiaceae","Rhodocyclaceae","Thauera","Pseudomonas","Gemmatimonadaceae","Sphingomonas","Caulobacteraceae","Methylotenera","Sphingobacteriales"]},
        "axis": {"orient": "top", "title": null, "ticks": false, "domain": false, "grid": false, "labelAngle": -45, "labelAlign": "left", "labelBaseline": "middle", "labelFont": "Liberation Sans", "labelFontSize": 17.5, "labelColor": "#000000", "labelPadding": 6, "labelLimit": 0, "labelOverlap": false}},
      "x2": {"field": "b", "bandPosition": 1},
      "y": {"field": "a", "type": "nominal", "bandPosition": 0, "title": null,
        "scale": {"type": "band", "paddingInner": 0, "paddingOuter": 0, "domain": ["Degradation.rate","Arthrobacter","Methylophilus","Hyphomicrobium","Planctomycetaceae","Dokdonella","Azospirillum","Rhodospirillaceae","Halomonas","Phyllobacteriaceae","Xanthomonadaceae","Sphingomonadaceae","Rhodanobacter","Blastocatellaceae","Pseudarthrobacter","Verrucomicrobiaceae","Rhizobiaceae","Rhodocyclaceae","Thauera","Pseudomonas","Gemmatimonadaceae","Sphingomonas","Caulobacteraceae","Methylotenera","Sphingobacteriales"]},
        "axis": {"orient": "left", "title": null, "ticks": false, "domain": false, "grid": false, "labelFont": "Liberation Sans", "labelFontSize": 17.5, "labelColor": "#000000", "labelPadding": 8, "labelLimit": 0, "labelOverlap": false}},
      "y2": {"field": "b", "bandPosition": 1}
    }
  }
]
}
